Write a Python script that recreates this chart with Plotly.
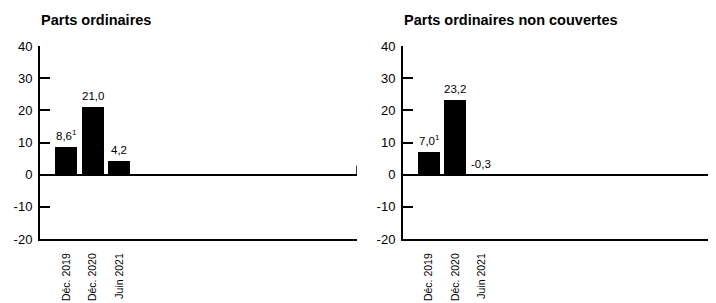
import plotly.graph_objects as go

categories = ["Déc. 2019", "Déc. 2020", "Juin 2021"]
values_left = [8.6, 21.0, 4.2]
values_right = [7.0, 23.2, -0.3]
footnotes_left = ["1", "", ""]
footnotes_right = ["1", "", ""]
titles = ["Parts ordinaires", "Parts ordinaires non couvertes"]
y_ticks = [-20, -10, 0, 10, 20, 30, 40]

FONT = "Liberation Sans, Arial, sans-serif"
OFF = 8  # page body margin
W, H = 716 - OFF, 303 - OFF
top_px, bot_px = 46 - OFF, 239 - OFF
ydom = [1 - bot_px / H, 1 - top_px / H]
xdoms = [[(40 - OFF) / W, (357 - OFF) / W], [(403 - OFF) / W, 1.0]]
title_y = 1 - (20 - OFF) / H

xpos = list(range(len(categories)))

def fmt(v, fn):
    s = f"{v:.1f}".replace(".", ",")
    if fn:
        s += f"<sup>{fn}</sup>"
    return s

fig = go.Figure()
annotations = []
for i, (vals, fns) in enumerate([(values_left, footnotes_left), (values_right, footnotes_right)]):
    xa = "x" if i == 0 else "x2"
    ya = "y" if i == 0 else "y2"
    fig.add_trace(go.Bar(x=xpos, y=vals, marker=dict(color="black", line=dict(width=0)),
                         width=0.83, xaxis=xa, yaxis=ya, showlegend=False, hoverinfo="skip"))
    for xp, v, fn in zip(xpos, vals, fns):
        annotations.append(dict(x=xp, y=max(v, 0), xref=xa, yref=ya, text=fmt(v, fn),
                                showarrow=False, yanchor="bottom", xanchor="center", yshift=3,
                                font=dict(family=FONT, size=11.5, color="black")))
    annotations.append(dict(x=xdoms[i][0], y=title_y, xref="paper", yref="paper",
                            text="<b>" + titles[i] + "</b>", showarrow=False,
                            xanchor="left", yanchor="middle", xshift=-1,
                            font=dict(family=FONT, size=14.5, color="black")))

axis_common_x = dict(range=[-1, 11], showline=True, linecolor="black", linewidth=2,
                     tickmode="array", tickvals=xpos, ticktext=categories, tickangle=-90,
                     ticks="", showgrid=False, zeroline=False, automargin=False,
                     tickfont=dict(family=FONT, size=10.5, color="black"),
                     ticklabelstandoff=8, fixedrange=True)
axis_common_y = dict(range=[-20, 40], showline=True, linecolor="black", linewidth=2,
                     tickmode="array", tickvals=y_ticks, ticktext=[str(t) for t in y_ticks],
                     ticks="inside", ticklen=10, tickwidth=2, tickcolor="black",
                     showgrid=False, zeroline=True, zerolinecolor="black", zerolinewidth=1.5,
                     automargin=False, tickfont=dict(family=FONT, size=13, color="black"),
                     ticklabelstandoff=3, fixedrange=True)

fig.update_layout(
    width=W, height=H, margin=dict(l=0, r=0, t=0, b=0),
    paper_bgcolor="white", plot_bgcolor="white", bargap=0,
    xaxis=dict(axis_common_x, domain=xdoms[0], anchor="y"),
    yaxis=dict(axis_common_y, domain=ydom, anchor="x"),
    xaxis2=dict(axis_common_x, domain=xdoms[1], anchor="y2"),
    yaxis2=dict(axis_common_y, domain=ydom, anchor="x2"),
    annotations=annotations,
    shapes=[dict(type="line", xref="x", yref="y", x0=11, x1=11, y0=0, y1=2.8,
                 line=dict(color="black", width=1.5))],
)

fig.write_html("out.html")
